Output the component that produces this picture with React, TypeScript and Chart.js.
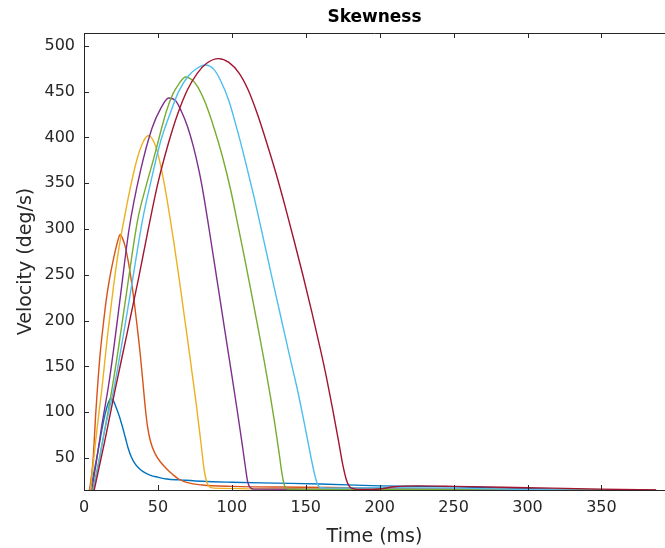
import { useEffect, useRef } from 'react';
import { Chart, registerables } from 'chart.js';

Chart.register(...registerables);

// ---- Data (time in ms, velocity in deg/s) ----
const xTicks = [0, 50, 100, 150, 200, 250, 300, 350];
const yTicks = [50, 100, 150, 200, 250, 300, 350, 400, 450, 500];

const t1 = [3, 5, 8, 10, 12, 14, 16, 18, 20, 22, 24, 26, 28, 30, 32, 34, 37, 40, 45, 50, 56, 65, 80, 100, 130, 160, 200, 250, 300, 350, 387];
const v1 = [12, 22, 45, 62, 80, 96, 108, 115, 112, 104, 95, 84, 72, 60, 51, 45, 39, 35, 31, 29, 27, 26, 24.5, 23.5, 22.5, 21.5, 19.5, 18.5, 16.5, 14.5, 13.5];

const t2 = [3.5, 6, 8, 9, 11, 13, 15, 17, 19, 21, 23, 24.5, 26, 28, 30, 32, 34, 36, 38, 40, 41.5, 43, 45, 48, 52, 56, 60, 64, 70, 80, 100, 150, 200, 300, 387];
const v2 = [12, 45, 100, 124, 165, 195, 222, 243, 260, 275, 288, 294, 290, 280, 264, 244, 220, 193, 164, 130, 104, 84, 68, 55, 45, 38, 32, 27, 23, 20.5, 19, 18, 17, 15.5, 14.5];

const t3 = [4, 6, 8, 10, 12, 16, 20, 24, 28, 32, 36, 40, 43.5, 46, 49, 52, 55, 58, 61, 64, 67, 70, 73, 76, 79, 81, 82.5, 84.5, 88, 150, 250, 387];
const v3 = [12, 40, 70, 98, 124, 185, 238, 283, 318, 350, 377, 395, 402, 399, 388, 368, 343, 314, 283, 250, 215, 180, 144, 108, 68, 40, 27, 19, 17, 16, 15.5, 14.5];

const t4 = [5, 8, 12, 16.5, 20, 24.5, 30.5, 38, 46, 52, 57.3, 62, 66, 70, 74, 78, 81, 84.6, 88, 94.8, 100.5, 104, 107, 109, 110.7, 112.5, 115, 200, 300, 387];
const v4 = [12, 42, 85, 128, 168, 225, 300, 362, 410, 432, 443, 440, 428, 412, 390, 362, 336, 300, 265, 194, 135, 98, 65, 42, 24, 17.5, 16, 15.5, 15, 14.5];

const t5 = [5.5, 9, 13, 18.8, 23.3, 29, 36.3, 42, 47, 52, 56, 60, 64, 68.7, 73, 76.6, 82, 88, 93.5, 99.3, 104, 108.4, 113, 117.5, 122, 126, 129, 132, 134, 135.6, 138, 200, 300, 387];
const v5 = [12, 38, 72, 124, 170, 233, 310, 347, 376, 407, 430, 447, 458, 466, 463, 456, 438, 410, 380, 342, 305, 270, 232, 194, 155, 118, 88, 55, 32, 20, 16, 15.5, 15, 14.5];

const t6 = [6, 10, 14, 20, 26, 32.4, 39.6, 45, 51.7, 58, 64, 70, 76, 82, 88, 93, 98, 103, 109, 115, 121, 127, 133, 139, 144.7, 149, 153, 156, 158, 160, 165, 200, 250, 320, 387];
const v6 = [12, 45, 80, 124, 178, 240, 310, 350, 395, 425, 450, 466, 475, 479, 474, 460, 440, 412, 375, 335, 292, 248, 205, 162, 122, 88, 55, 32, 21, 17.5, 17, 17.5, 17, 15, 14];

const t7 = [6.5, 10, 14, 21, 29, 37, 43.5, 50, 57, 63, 70, 76.6, 83, 91, 98, 105, 111, 117.4, 124, 130, 136, 142, 148, 154, 160, 164, 168, 172, 175, 177.5, 179.5, 182, 188, 195, 202, 210, 225, 250, 300, 350, 387];
const v7 = [12, 38, 68, 124, 185, 247, 300, 350, 393, 424, 452, 470, 481, 486, 482, 470, 452, 425, 392, 360, 325, 288, 250, 210, 168, 138, 105, 70, 43, 26, 19, 16.5, 15.5, 15.5, 16.5, 18.5, 19.5, 19, 17.5, 16, 15];

const seriesTimes = [t1, t2, t3, t4, t5, t6, t7];
const seriesValues = [v1, v2, v3, v4, v5, v6, v7];
const seriesColors = ['#0072BD', '#D95319', '#EDB120', '#7E2F8E', '#77AC30', '#4DBEEE', '#A2142F'];

const AXIS_COLOR = '#262626';
const FONT = 'DejaVu Sans';

const boxPlugin = {
  id: 'matlabBox',
  afterDraw(chart: any) {
    const { ctx, chartArea } = chart;
    const { left, right, top, bottom } = chartArea;
    const xs = chart.scales.x;
    const ys = chart.scales.y;
    const tl = 5;
    ctx.save();
    ctx.strokeStyle = AXIS_COLOR;
    ctx.lineWidth = 1;
    ctx.beginPath();
    ctx.moveTo(left, Math.round(top) + 0.5);
    ctx.lineTo(right, Math.round(top) + 0.5);
    xs.ticks.forEach((tk: any) => {
      const px = Math.round(xs.getPixelForValue(tk.value)) + 0.5;
      ctx.moveTo(px, bottom);
      ctx.lineTo(px, bottom - tl);
      ctx.moveTo(px, top);
      ctx.lineTo(px, top + tl);
    });
    ys.ticks.forEach((tk: any) => {
      const py = Math.round(ys.getPixelForValue(tk.value)) + 0.5;
      ctx.moveTo(left, py);
      ctx.lineTo(left + tl, py);
    });
    ctx.stroke();
    ctx.restore();
  },
};

export default function App() {
  const ref = useRef<HTMLCanvasElement>(null);

  useEffect(() => {
    if (!ref.current) return;
    const datasets = seriesTimes.map((ts, i) => ({
      label: `s${i + 1}`,
      data: ts.map((t, j) => ({ x: t, y: seriesValues[i][j] })),
      borderColor: seriesColors[i],
      backgroundColor: seriesColors[i],
      borderWidth: 1.4,
      pointRadius: 0,
      fill: false,
      cubicInterpolationMode: 'monotone' as const,
      order: seriesTimes.length - 1 - i,
    }));

    const chart = new Chart(ref.current, {
      type: 'line',
      data: { datasets },
      plugins: [boxPlugin],
      options: {
        animation: false,
        responsive: false,
        devicePixelRatio: 1,
        layout: { padding: 0 },
        plugins: {
          legend: { display: false },
          tooltip: { enabled: false },
          title: {
            display: true,
            text: 'Skewness',
            fullSize: false,
            color: '#000000',
            font: { family: FONT, size: 17, weight: 'bold', lineHeight: '20px' },
            padding: { top: 8, bottom: 5 },
          },
        },
        scales: {
          x: {
            type: 'linear',
            min: 0,
            max: 393,
            afterBuildTicks: (scale: any) => {
              scale.ticks = xTicks.map((v) => ({ value: v }));
            },
            afterFit: (scale: any) => {
              scale.height = 58;
            },
            grid: { display: true, drawOnChartArea: false, drawTicks: false },
            border: { display: true, color: AXIS_COLOR, width: 1 },
            ticks: {
              color: AXIS_COLOR,
              font: { family: FONT, size: 16 },
              padding: 8,
              maxRotation: 0,
              autoSkip: false,
            },
            title: {
              display: true,
              text: 'Time (ms)',
              color: AXIS_COLOR,
              font: { family: FONT, size: 19 },
              padding: { top: 0, bottom: 0 },
            },
          },
          y: {
            type: 'linear',
            min: 15,
            max: 514,
            afterBuildTicks: (scale: any) => {
              scale.ticks = yTicks.map((v) => ({ value: v }));
            },
            afterFit: (scale: any) => {
              scale.width = 84;
            },
            grid: { display: true, drawOnChartArea: false, drawTicks: false },
            border: { display: true, color: AXIS_COLOR, width: 1 },
            ticks: {
              color: AXIS_COLOR,
              font: { family: FONT, size: 16 },
              padding: 9,
              autoSkip: false,
            },
            title: {
              display: true,
              text: 'Velocity (deg/s)',
              color: AXIS_COLOR,
              font: { family: FONT, size: 19 },
              padding: { top: 15, bottom: 0 },
            },
          },
        },
      },
    });
    return () => chart.destroy();
  }, []);

  return (
    <div style={{ position: 'absolute', left: 0, top: 0, width: 665, height: 548, background: '#ffffff' }}>
      <canvas ref={ref} width={665} height={548} style={{ display: 'block', width: 665, height: 548 }} />
    </div>
  );
}
